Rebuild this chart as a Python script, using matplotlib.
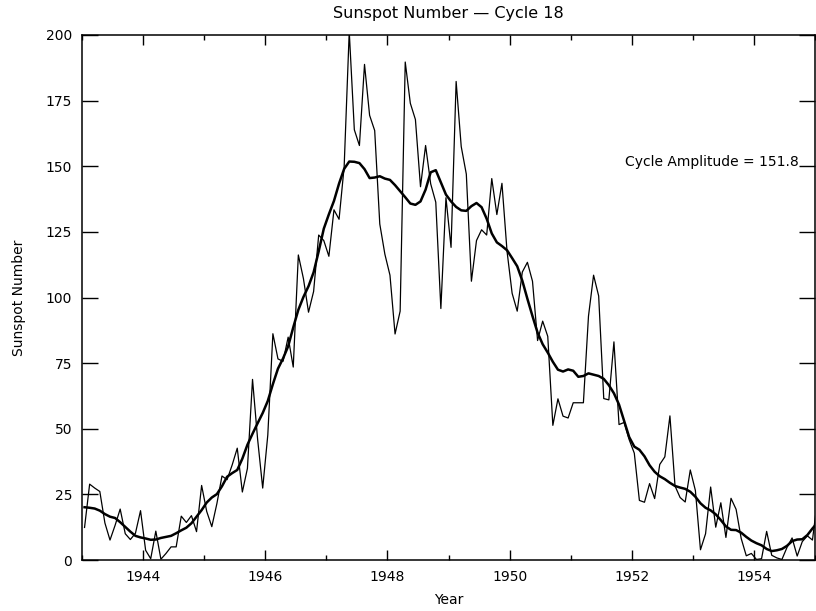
import matplotlib
matplotlib.use("Agg")
import matplotlib.pyplot as plt
import numpy as np
from matplotlib.ticker import MultipleLocator

# Monthly mean sunspot numbers, Jan 1943 .. Jan 1955
years = list(range(1943, 1956))
monthly = [
    12.4, 28.9, 27.4, 26.1, 14.1, 7.6, 13.2, 19.4, 10.0, 7.8, 10.2, 18.8,        # 1943
    3.7, 0.5, 11.0, 0.3, 2.5, 5.0, 5.0, 16.7, 14.3, 16.9, 10.8, 28.4,            # 1944
    18.5, 12.7, 21.5, 32.0, 30.6, 36.2, 42.6, 25.9, 34.9, 68.8, 46.0, 27.4,      # 1945
    47.6, 86.2, 76.6, 75.7, 84.9, 73.5, 116.2, 107.2, 94.4, 102.3, 123.8, 121.7, # 1946
    115.7, 133.4, 129.8, 149.8, 201.3, 163.9, 157.9, 188.8, 169.4, 163.6, 128.0, 116.5,  # 1947
    108.5, 86.1, 94.8, 189.7, 174.0, 167.8, 142.2, 157.9, 143.3, 136.3, 95.8, 138.0,     # 1948
    119.1, 182.3, 157.5, 147.0, 106.2, 121.7, 125.8, 123.8, 145.3, 131.6, 143.5, 117.6,  # 1949
    101.6, 94.8, 109.7, 113.4, 106.2, 83.6, 91.0, 85.2, 51.3, 61.4, 54.8, 54.1,  # 1950
    59.9, 59.9, 59.9, 92.9, 108.5, 100.6, 61.5, 61.0, 83.1, 51.6, 52.4, 45.8,    # 1951
    40.7, 22.7, 22.0, 29.1, 23.4, 36.4, 39.3, 54.9, 28.2, 23.8, 22.1, 34.3,      # 1952
    26.5, 3.9, 10.0, 27.8, 12.5, 21.8, 8.6, 23.5, 19.3, 8.2, 1.6, 2.5,           # 1953
    0.2, 0.5, 10.9, 1.8, 0.8, 0.2, 4.8, 8.4, 1.5, 7.0, 9.2, 7.6,                 # 1954
    23.1,                                                                         # 1955
]

# 13-month smoothed values, same months
smoothed = [
    20.1, 19.9, 19.6, 18.8, 17.5, 16.5, 16.0, 14.4, 12.6, 10.8, 9.2, 8.6,
    8.2, 7.7, 7.8, 8.4, 8.8, 9.2, 10.2, 11.3, 12.3, 14.0, 16.5, 19.0,
    21.9, 23.8, 25.1, 28.1, 31.7, 33.1, 34.3, 38.6, 43.9, 48.1, 52.1, 56.0,
    60.6, 67.0, 72.9, 76.8, 81.4, 88.6, 95.3, 100.2, 104.3, 109.6, 117.6, 126.2,
    131.7, 136.8, 143.4, 149.0, 151.8, 151.7, 151.2, 148.9, 145.5, 145.7, 146.2, 145.3,
    144.8, 142.8, 140.5, 138.2, 135.8, 135.3, 136.6, 141.1, 147.7, 148.5, 143.9, 139.2,
    136.6, 134.5, 133.2, 133.0, 134.8, 136.0, 134.4, 130.0, 124.4, 121.0, 119.6, 118.0,
    115.0, 111.9, 106.4, 99.5, 92.9, 86.6, 82.2, 79.0, 75.5, 72.5, 71.8, 72.6,
    72.1, 69.8, 70.1, 71.1, 70.6, 70.1, 69.0, 66.6, 63.5, 59.2, 53.0, 46.8,
    43.2, 42.0, 39.5, 36.1, 33.6, 31.9, 30.8, 29.4, 28.2, 27.6, 27.1, 26.0,
    24.1, 21.6, 19.9, 18.9, 17.4, 15.2, 12.8, 11.5, 11.4, 10.4, 8.8, 7.4,
    6.4, 5.6, 4.2, 3.4, 3.7, 4.2, 5.4, 7.2, 7.8, 7.9, 9.5, 12.0,
    14.2,
]

amplitude = 151.8
year_ticks = [1944, 1946, 1948, 1950, 1952, 1954]
y_ticks = [0, 25, 50, 75, 100, 125, 150, 175, 200]

# mid-month decimal dates
t = years[0] + (np.arange(len(monthly)) + 0.5) / 12.0

fig = plt.figure(figsize=(8.16, 6.11), dpi=100)
ax = fig.add_axes([82 / 816, 51 / 611, 733 / 816, 525 / 611])

ax.plot(t, monthly, color="black", lw=0.9)
ax.plot(t, smoothed, color="black", lw=1.8)

ax.set_xlim(1943, 1955)
ax.set_ylim(0, 200)
ax.set_xticks(year_ticks)
ax.set_xticklabels([str(y) for y in year_ticks])
ax.xaxis.set_minor_locator(MultipleLocator(1))
ax.set_yticks(y_ticks)
ax.set_yticklabels([str(v) for v in y_ticks])

ax.tick_params(axis="x", which="major", direction="in", length=7.5, width=1.0,
               top=True, bottom=True, labelsize=10, pad=7)
ax.tick_params(axis="x", which="minor", direction="in", length=3.8, width=1.0,
               top=True, bottom=True)
ax.tick_params(axis="y", which="major", direction="in", length=11.5, width=1.0,
               left=True, right=True, labelsize=10, pad=7)
for s in ax.spines.values():
    s.set_linewidth(1.1)

ax.text(1954.74, amplitude - 1.8, f"Cycle Amplitude = {amplitude}", ha="right",
        va="baseline", fontsize=10)

ax.set_title("Sunspot Number \u2014 Cycle 18", fontsize=11.5, pad=12)
ax.set_xlabel("Year", fontsize=10, labelpad=7)
ax.set_ylabel("Sunspot Number", fontsize=10, labelpad=14)

fig.savefig("out.png", dpi=100)
